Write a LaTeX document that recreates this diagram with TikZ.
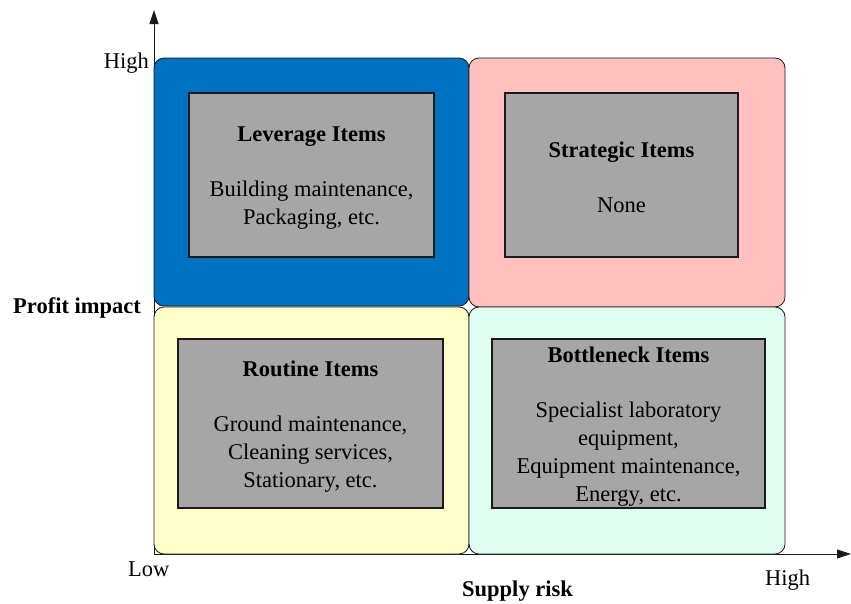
\documentclass[tikz,border=0pt]{standalone}
\usepackage{fontspec}
\setmainfont{Liberation Serif}
\usetikzlibrary{arrows.meta}
\definecolor{levblue}{HTML}{0070C0}
\definecolor{strpink}{HTML}{FFC0C0}
\definecolor{routyellow}{HTML}{FFFFCC}
\definecolor{botmint}{HTML}{E0FFF0}
\definecolor{itemgrey}{HTML}{A6A6A6}
\definecolor{edge}{HTML}{1A1A1A}
\newcommand{\itemtitle}[1]{\rule{0pt}{21pt}\textbf{#1}}
\begin{document}
\begin{tikzpicture}[x=1pt,y=-1pt,
  every node/.style={font=\fontsize{22.5}{28}\selectfont, text=black},
  quad/.style={draw=edge, line width=0.8pt, rounded corners=10pt,
    inner sep=0pt, outer sep=0pt},
  itembox/.style={draw=edge, line width=1.3pt, fill=itemgrey,
    inner sep=0pt, outer sep=0pt, align=center},
  lbl/.style={inner sep=0pt},
  axis/.style={draw=edge, line width=0.9pt, -{Triangle[length=14pt,width=9pt]}}
]
\useasboundingbox (0,0) rectangle (851,603);

% axes
\coordinate (o) at (154,554);
\coordinate (ytip) at (154,10);
\coordinate (xtip) at (851,554);
\draw[axis] (o) -- (ytip);
\draw[axis] (o) -- (xtip);

% quadrants
\node[quad, fill=levblue, minimum width=315pt, minimum height=248pt] (qlev) at (311.5,182) {};
\node[quad, fill=strpink, minimum width=316pt, minimum height=249pt] (qstr) at (627,182.5) {};
\node[quad, fill=routyellow, minimum width=315pt, minimum height=247pt] (qrou) at (311.5,430.5) {};
\node[quad, fill=botmint, minimum width=316pt, minimum height=247pt] (qbot) at (627,430.5) {};

% item boxes
\node[itembox, minimum width=245pt, minimum height=164pt] (lev) at (311.5,175)
  {\itemtitle{Leverage Items}\\[27pt]Building maintenance,\\Packaging, etc.};
\node[itembox, minimum width=233pt, minimum height=164pt] (str) at (621.5,175)
  {\itemtitle{Strategic Items}\\[27pt]None};
\node[itembox, minimum width=265pt, minimum height=169pt] (rou) at (310.5,423.5)
  {\itemtitle{Routine Items}\\[27pt]Ground maintenance,\\Cleaning services,\\Stationary, etc.};
\node[itembox, minimum width=273pt, minimum height=169pt] (bot) at (628.5,423.5)
  {\itemtitle{Bottleneck Items}\\[27pt]Specialist laboratory\\equipment,\\Equipment maintenance,\\Energy, etc.};

% axis labels
\node[lbl, anchor=base east] (yhigh) at (149,68) {High};
\node[lbl, anchor=base west] (ylabel) at (13,313) {\textbf{Profit impact}};
\node[lbl, anchor=base west] (low) at (128,576) {Low};
\node[lbl, anchor=base west] (xlabel) at (462,596) {\textbf{Supply risk}};
\node[lbl, anchor=base west] (xhigh) at (765,585) {High};
\end{tikzpicture}
\end{document}
